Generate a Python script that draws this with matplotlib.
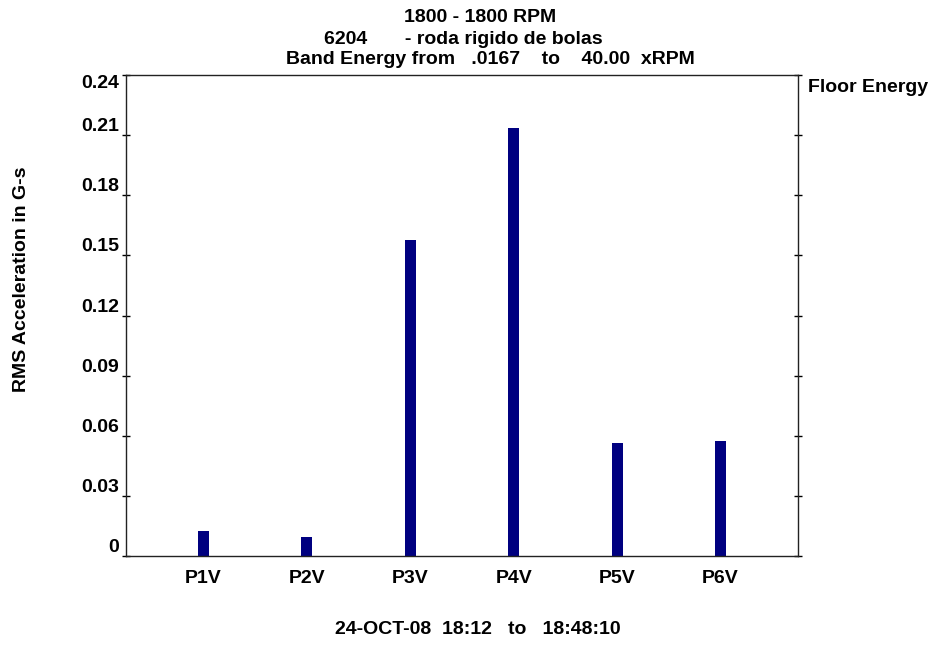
import matplotlib
matplotlib.use("Agg")
import matplotlib.pyplot as plt

plt.rcParams['font.family'] = ['Liberation Sans', 'DejaVu Sans']
plt.rcParams['font.weight'] = 'bold'

# Band energy per measurement point
points = ["P1V", "P2V", "P3V", "P4V", "P5V", "P6V"]
rms_g = [0.0125, 0.0095, 0.1575, 0.2135, 0.0565, 0.0575]
yticks = [0, 0.03, 0.06, 0.09, 0.12, 0.15, 0.18, 0.21, 0.24]
ytick_labels = ["0", "0.03", "0.06", "0.09", "0.12", "0.15", "0.18", "0.21", "0.24"]

FS = 14
W, H = 935, 648
fig = plt.figure(figsize=(W / 100, H / 100), dpi=100)
left, right, top, bottom = 126, 798, 75, 556
ax = fig.add_axes([left / W, 1 - bottom / H, (right - left) / W, (bottom - top) / H])

x = list(range(1, len(points) + 1))
ax.bar(x, rms_g, width=0.105, color="#000080", edgecolor="none")

ax.set_xlim(0.25, 6.75)
ax.set_ylim(0, 0.24)
ax.set_yticks(yticks)
ax.set_yticklabels(ytick_labels, fontsize=FS, fontweight='bold')
for lbl in ax.get_yticklabels():
    lbl.set_verticalalignment('bottom')
ax.get_yticklabels()[-1].set_verticalalignment('top')

ax.set_xticks(x)
ax.set_xticklabels(points, fontsize=FS, fontweight='bold')
ax.tick_params(axis='x', length=0, pad=10)
ax.tick_params(axis='y', direction='inout', length=6, width=1, pad=2,
               right=True, left=True, colors='black')

for sp in ax.spines.values():
    sp.set_linewidth(1.0)
    sp.set_color('#222222')

# Titles and annotations
fc = dict(fontsize=FS, fontweight='bold', ha='center', va='center')
fig.text(480 / W, 1 - 17 / H, "1800 - 1800 RPM", **fc)
fig.text(463 / W, 1 - 40 / H, "6204       - roda rigido de bolas", **fc)
fig.text(490 / W, 1 - 59 / H, "Band Energy from   .0167    to    40.00  xRPM", **fc)
fig.text(478 / W, 1 - 629 / H, "24-OCT-08  18:12   to   18:48:10", **fc)
fig.text(808 / W, 1 - 88 / H, "Floor Energy", fontsize=FS, fontweight='bold',
         ha='left', va='center')
fig.text(22 / W, 1 - 279 / H, "RMS Acceleration in G-s", fontsize=FS,
         fontweight='bold', rotation=90, ha='center', va='center')

fig.savefig("out.png", dpi=100)
